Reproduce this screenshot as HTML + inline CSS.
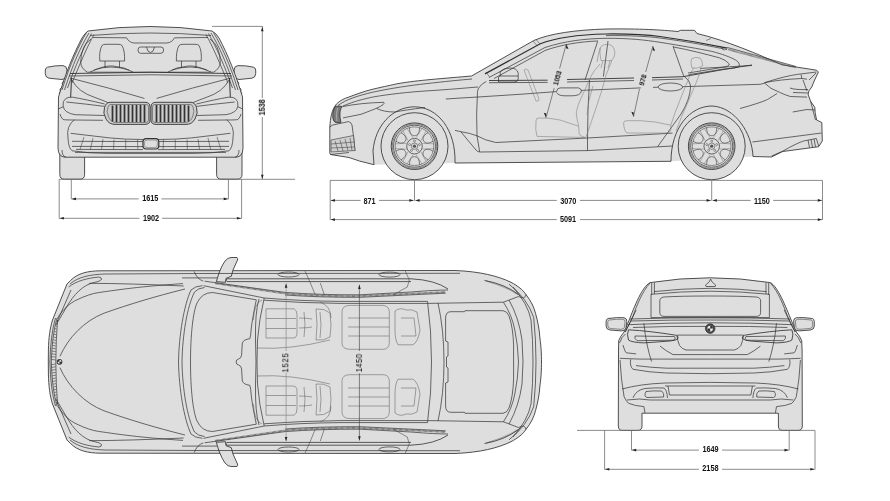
<!DOCTYPE html>
<html><head><meta charset="utf-8"><style>
html,body{margin:0;padding:0;background:#fff;width:890px;height:501px;overflow:hidden}
svg{display:block}
text{will-change:transform}
.f{fill:#dedede;stroke:#333;stroke-width:.85;stroke-linejoin:round}
.l{fill:none;stroke:#333;stroke-width:.72}
.t{fill:none;stroke:#3c3c3c;stroke-width:.55}
.g{fill:none;stroke:#8a8a8a;stroke-width:.5}
.s{fill:none;stroke:#555;stroke-width:.5}
.d{fill:none;stroke:#6e6e6e;stroke-width:.8}
.a{fill:#222}
text{font-family:"Liberation Sans",sans-serif;font-weight:bold;font-size:8.3px;fill:#111}
</style></head><body>
<svg width="890" height="501" viewBox="0 0 890 501">

<!-- ================= FRONT VIEW ================= -->
<g id="front">
  <!-- wheels -->
  <path class="f" d="M59.8,150 L59.8,174.5 Q59.8,179.2 64.5,179.2 L80,179.2 Q84.6,179.2 84.6,174.5 L84.6,150 Z"/>
  <path class="f" d="M216.6,150 L216.6,174.5 Q216.6,179.2 221.3,179.2 L237.3,179.2 Q242,179.2 242,174.5 L242,150 Z"/>
  <!-- mirrors -->
  <path class="f" d="M47.5,67.2 Q55,65.4 63,65.6 Q66.8,66 67,70 L66.6,75.5 Q66,79.4 62,79.5 L49,78.2 Q45.3,77.6 45.3,73.5 L45.3,70 Q45.5,67.8 47.5,67.2 Z"/>
  <path class="f" d="M253.5,67.2 Q246,65.4 238,65.6 Q234.2,66 234,70 L234.4,75.5 Q235,79.4 239,79.5 L252,78.2 Q255.7,77.6 255.7,73.5 L255.7,70 Q255.5,67.8 253.5,67.2 Z"/>
  <path class="l" d="M65,79.5 L62,83 Q64,85 62,87 L60,89 Q61,92 59,94 M236,79.5 L239,83 Q237,85 239,87 L241,89 Q240,92 242,94"/>
  <!-- body -->
  <path class="f" d="M88,31 Q150,22 212,31 Q216,33 219,38 C228,55 236,75 242.5,97 L243,148 Q242.8,156.8 236,157.2 L65,157.2 Q58.2,156.8 58,148 L58.5,97 C65,75 73,55 82,38 Q85,33 88,31 Z"/>
  <!-- A pillar stripes -->
  <path class="t" style="stroke-width:.7;stroke:#333" d="M86.5,32.5 C79,45 70,64 62,90 M89,33 C81,46 72.5,65 64.5,90 M91.5,33.5 C84,46.5 75.5,65.5 67.5,88 M94,34.5 C87,47 79,66 72,83"/>
  <path class="t" style="stroke-width:.7;stroke:#333" d="M213.5,32.5 C221,45 230,64 238,90 M211,33 C219,46 227.5,65 235.5,90 M208.5,33.5 C216,46.5 224.5,65.5 232.5,88 M206,34.5 C213,47 221,66 228,83"/>
  <path fill="none" stroke="#333" stroke-width="1" d="M71.5,78 L70.7,97 M229.5,78 L230.3,97"/>
  <!-- windshield -->
  <path class="l" d="M93,37.5 L126.5,37.8 Q129,42.5 134,43 L167,43 Q172,42.5 174.5,37.8 L208,37.5"/>
  <path class="l" d="M90,35.5 Q150,30.5 211,35.5"/>
  <path class="l" d="M91,39 Q85.5,43 83.7,47.5 Q80.5,55 80.7,62.4 Q81,68.5 87.4,72.2 L213.6,72.2 Q220,68.5 220.3,62.4 Q220.5,55 217.3,47.5 Q215.5,43 210,39"/>
  <path class="l" style="stroke-width:.9" d="M70,73.5 Q150,71 231,73.5"/>
  <path class="l" d="M69,76 Q150,73.5 232,76"/>
  <!-- rear view mirror -->
  <path class="l" d="M140.5,47 L161,47 Q163.6,47 163.6,50 Q163.6,53.3 161,53.3 L140.5,53.3 Q138,53.3 138,50 Q138,47 140.5,47 Z M146.5,47 Q147.5,52.5 150.5,52.5 Q153.5,52.5 154.5,47"/>
  <!-- headrests -->
  <path class="l" d="M99.8,61 Q99,51 102,45.5 Q103,44.3 106,44.3 L118,44.3 Q121,44.3 122,45.5 Q125,51 124.6,61 Z M105,61 L105,68 M119.5,61 L119.5,68"/>
  <path class="l" d="M176.4,61 Q176,51 179,45.5 Q180,44.3 183,44.3 L195,44.3 Q198,44.3 199,45.5 Q202,51 201.2,61 Z M181.5,61 L181.5,68 M196,61 L196,68"/>
  <path class="l" d="M90,72 Q105,65 113,66 Q125,67 133,72 M94,70 Q110,64 129,70 M168,72 Q176,67 188,66 Q196,65 211,72 M172,70 Q191,64 207,70"/>
  <!-- hood creases -->
  <path class="l" d="M70,78 Q110,88 144.4,98.4 M231,78 Q191,88 156.6,98.4"/>
  <path class="l" d="M72,80 Q78,92 95,97.5 Q102,100 108,102.6 M229,80 Q223,92 206,97.5 Q199,100 193,102.6"/>
  <!-- headlights -->
  <path class="l" d="M196.4,104 Q215,99.5 228.3,97.2 Q234,97 235.5,98.8 Q238.5,101 237.9,106 Q237,110 234.7,111.5 Q231,114 225.9,114.7 L196.4,115.5 M196.4,106.4 Q215,104 234.7,102 M198,120.3 L226.7,120 Q236,120 237.9,119.5 Q240.5,117 241,114 M238,106.8 L242.7,109"/>
  <path class="l" d="M104.6,104 Q86,99.5 72.7,97.2 Q67,97 65.5,98.8 Q62.5,101 63.1,106 Q64,110 66.3,111.5 Q70,114 75.1,114.7 L104.6,115.5 M104.6,106.4 Q86,104 66.3,102 M103,120.3 L74.3,120 Q65,120 63.1,119.5 Q60.5,117 60,114 M63,106.8 L58.3,109"/>
  <!-- kidneys -->
  <path fill="#cdcdcd" stroke="#333" stroke-width=".9" d="M110,102.3 L145,102.3 Q150,102.3 150,107 L150,120 Q150,124.4 145,124.4 L115,124.4 Q109,124.4 106,119 Q102.5,113 104.5,107.5 Q106,102.3 110,102.3 Z"/>
  <path fill="#cdcdcd" stroke="#333" stroke-width=".9" d="M191,102.3 L156,102.3 Q151,102.3 151,107 L151,120 Q151,124.4 156,124.4 L186,124.4 Q192,124.4 195,119 Q198.5,113 196.5,107.5 Q195,102.3 191,102.3 Z"/>
  <path class="t" d="M110.5,104.5 L146.5,104.5 Q148.5,104.5 148.5,107 L148.5,120 Q148.5,122.5 146,122.5 L116,122.5 Q111,122.5 108.5,117 Q106,111 108,107 Q109,104.5 110.5,104.5 Z"/>
  <path class="t" d="M190.5,104.5 L154.5,104.5 Q152.5,104.5 152.5,107 L152.5,120 Q152.5,122.5 155,122.5 L185,122.5 Q190,122.5 192.5,117 Q195,111 193,107 Q192,104.5 190.5,104.5 Z"/>
  <path stroke="#333" stroke-width="1.75" d="M112.5,105.5v16M116.5,105v17M120.5,105v17M124.5,105v17M128.5,105v17M132.5,105v17M136.5,105v17M140.5,105v17M144.5,105v17
  M156.5,105v17M160.5,105v17M164.5,105v17M168.5,105v17M172.5,105v17M176.5,105v17M180.5,105v17M184.5,105v17M188.5,105.5v16"/>
  <!-- bumper -->
  <path class="l" d="M74.5,119.7 Q66,126 68,138 Q68.5,148 72,150.8 Q90,153.5 107,153.4 L194,153.4 Q211,153.5 229,150.8 Q232.5,148 233,138 Q235,126 226.5,119.7"/>
  <path class="l" d="M70.6,133.3 L109.5,137.9 Q125,139.5 143,139.5 M230.4,133.3 L191.5,137.9 Q176,139.5 158,139.5"/>
  <path class="l" d="M72,141.3 Q105,141.5 143,141.5 M72,146.4 L143,146.6 M76,149.4 L143,149.6 M158,141.5 Q196,141.5 229,141.3 M158,146.6 L229,146.4 M158,149.6 L225,149.4"/>
  <path class="l" d="M75,152.4 L226,152.4"/>
  <path class="t" d="M84,137 L80,149.5 M93,138 L90.3,149.5 M103,139 L101.5,149.5 M114,139.5 L113.6,149.5 M125.7,139.5 L125.7,149.5 M137.5,139.5 L137.9,149.5 M163.5,139.5 L163.1,149.5 M175.3,139.5 L175.3,149.5 M187,139.5 L187.4,149.5 M198,139 L199.5,149.5 M208,138 L210.7,149.5 M217,137 L221,149.5"/>
  <rect x="143" y="138.6" width="15.8" height="10.4" rx="3.2" fill="#dedede" stroke="#333" stroke-width="1.2"/>
  <rect x="144.5" y="140" width="12.8" height="7.6" rx="2.4" fill="none" stroke="#555" stroke-width=".5"/>
  <path class="l" d="M62,150 Q62,156 66,157.2 M239,150 Q239,156 235,157.2"/>
</g>
<!-- ================= FRONT DIMENSIONS ================= -->
<g id="fdim">

  <text transform="translate(150.3,200.8) scale(0.88,1)" text-anchor="middle" style="font-size:8.3px;font-weight:bold">1615</text>
  <text transform="translate(151,220.7) scale(0.88,1)" text-anchor="middle" style="font-size:8.3px;font-weight:bold">1902</text>
  <text transform="translate(264.8,107.4) rotate(-90) scale(0.88,1)" text-anchor="middle" style="font-size:8.3px;font-weight:bold">1538</text>
</g>


<!-- ================= SIDE VIEW ================= -->
<g id="side">
  <!-- wells -->
  <path fill="#dedede" d="M373,151 C375,126 392,107 414.5,106.8 C438,107 456,130 455,163 L374,164.7 Z M671,161.3 C671,128 690,106 712,106 C735,107 752,133 753,156.5 Z"/>
  <!-- body -->
  <path class="f" d="M336.4,104.1 C340,100.5 344,98.5 349,97 C357,94 365,91 372.9,89.2 C385,86.3 392,85 396.9,83.8 C410,81.5 420,80.6 430,79.6 C445,78.2 460,77 471.5,76 L533.8,40.5 C550,33.5 575,30 606,29 C640,28.5 662,30 678,31.5 L680.5,30.3 L694.5,30.3 L697,33.5 C725,40 760,55 781.9,64.8 L816.6,70.2 L818.4,72 L814.2,81 L811.8,86.9 L808.8,91.1 L808.2,94.7 L810.6,101.3 L814.8,107.3 L815.2,112.7 L816.6,120 L821.8,122.5 L822.3,141 L818.7,146.7 L782.7,151.5 L771.5,157 L753,156.5 C752,133 735,107 712,106 C690,106 671,128 671,161.3 L455,163 C456,130 438,107 414.5,106.8 C392,107 375,126 373,151 L374,164.7 L359.7,161.1 L349,157.5 L330.4,154.5 L329.8,153 L329.8,127 C330.5,118 331.5,110 336.4,104.1 Z"/>
  <!-- wheels -->
  <g>
    <circle class="f" cx="414.5" cy="146.2" r="33.5"/>
    <circle fill="none" stroke="#333" stroke-width=".9" cx="414.5" cy="146.2" r="23.3"/>
    <circle class="t" cx="414.5" cy="146.2" r="22.2"/>
    <circle class="l" cx="414.5" cy="146.2" r="21"/>
    <circle class="t" cx="414.5" cy="146.2" r="19.3"/>
    <circle class="l" cx="414.5" cy="146.2" r="7.8"/>
    <circle class="t" cx="414.5" cy="146.2" r="3.2"/>
    <circle fill="#555" cx="414.5" cy="146.2" r="1.6"/>
    <path fill="none" stroke="#333" stroke-width=".6" d="M419.5,127.6 C419.6,133.7 417.1,135.7 414.5,135.7 C411.9,135.7 409.4,133.7 409.5,127.6 M400.9,132.6 C406.2,135.6 406.7,138.7 405.4,140.9 C404.1,143.2 401.1,144.3 395.9,141.2 M395.9,151.2 C401.1,148.1 404.1,149.2 405.4,151.4 C406.7,153.7 406.2,156.8 400.9,159.8 M409.5,164.8 C409.4,158.7 411.9,156.7 414.5,156.7 C417.1,156.7 419.6,158.7 419.5,164.8 M428.1,159.8 C422.8,156.8 422.3,153.7 423.6,151.4 C424.9,149.2 427.9,148.1 433.1,151.2 M433.1,141.2 C427.9,144.3 424.9,143.2 423.6,140.9 C422.3,138.7 422.8,135.6 428.1,132.6"/>
    <path fill="none" stroke="#555" stroke-width=".4" d="M433.7,148.6 L422.5,149.1 M433.7,143.8 L422.5,143.3 M426.1,130.8 L421.0,140.7 M422.0,128.4 L416.0,137.8 M407.0,128.4 L413.0,137.8 M402.9,130.8 L408.0,140.7 M395.3,143.8 L406.5,143.3 M395.3,148.6 L406.5,149.1 M402.9,161.6 L408.0,151.7 M407.0,164.0 L413.0,154.6 M422.0,164.0 L416.0,154.6 M426.1,161.6 L421.0,151.7"/>
    <circle fill="none" stroke="#333" stroke-width=".45" cx="414.5" cy="141.0" r="1"/>
    <circle fill="none" stroke="#333" stroke-width=".45" cx="409.6" cy="144.6" r="1"/>
    <circle fill="none" stroke="#333" stroke-width=".45" cx="411.4" cy="150.4" r="1"/>
    <circle fill="none" stroke="#333" stroke-width=".45" cx="417.6" cy="150.4" r="1"/>
    <circle fill="none" stroke="#333" stroke-width=".45" cx="419.4" cy="144.6" r="1"/>
  </g>
  <g>
    <circle class="f" cx="711.7" cy="146.2" r="33.5"/>
    <circle fill="none" stroke="#333" stroke-width=".9" cx="711.7" cy="146.2" r="23.3"/>
    <circle class="t" cx="711.7" cy="146.2" r="22.2"/>
    <circle class="l" cx="711.7" cy="146.2" r="21"/>
    <circle class="t" cx="711.7" cy="146.2" r="19.3"/>
    <circle class="l" cx="711.7" cy="146.2" r="7.8"/>
    <circle class="t" cx="711.7" cy="146.2" r="3.2"/>
    <circle fill="#555" cx="711.7" cy="146.2" r="1.6"/>
    <path fill="none" stroke="#333" stroke-width=".6" d="M716.7,127.6 C716.8,133.7 714.3,135.7 711.7,135.7 C709.1,135.7 706.6,133.7 706.7,127.6 M698.1,132.6 C703.4,135.6 703.9,138.7 702.6,140.9 C701.3,143.2 698.3,144.3 693.1,141.2 M693.1,151.2 C698.3,148.1 701.3,149.2 702.6,151.4 C703.9,153.7 703.4,156.8 698.1,159.8 M706.7,164.8 C706.6,158.7 709.1,156.7 711.7,156.7 C714.3,156.7 716.8,158.7 716.7,164.8 M725.3,159.8 C720.0,156.8 719.5,153.7 720.8,151.4 C722.1,149.2 725.1,148.1 730.3,151.2 M730.3,141.2 C725.1,144.3 722.1,143.2 720.8,140.9 C719.5,138.7 720.0,135.6 725.3,132.6"/>
    <path fill="none" stroke="#555" stroke-width=".4" d="M730.9,148.6 L719.7,149.1 M730.9,143.8 L719.7,143.3 M723.3,130.8 L718.2,140.7 M719.2,128.4 L713.2,137.8 M704.2,128.4 L710.2,137.8 M700.1,130.8 L705.2,140.7 M692.5,143.8 L703.7,143.3 M692.5,148.6 L703.7,149.1 M700.1,161.6 L705.2,151.7 M704.2,164.0 L710.2,154.6 M719.2,164.0 L713.2,154.6 M723.3,161.6 L718.2,151.7"/>
    <circle fill="none" stroke="#333" stroke-width=".45" cx="711.7" cy="141.0" r="1"/>
    <circle fill="none" stroke="#333" stroke-width=".45" cx="706.8" cy="144.6" r="1"/>
    <circle fill="none" stroke="#333" stroke-width=".45" cx="708.6" cy="150.4" r="1"/>
    <circle fill="none" stroke="#333" stroke-width=".45" cx="714.8" cy="150.4" r="1"/>
    <circle fill="none" stroke="#333" stroke-width=".45" cx="716.6" cy="144.6" r="1"/>
  </g>
  <!-- hood lines -->
  <path class="l" d="M338,105.5 C345,100 358,95.5 372.9,92.2 C392,88 410,85.5 425,83.8 C445,81.5 460,80 472,79"/>
  <path class="l" d="M343,106 C355,101 364,99 372.9,97 C390,94 410,92 425,91 C450,89.5 465,88 478,87"/>
  <path class="l" d="M445.8,99 Q460,98 478,97 L520,94.3 L556.6,91.6 M581.4,90.4 L640.7,87.9 M653,87.4 L658,87.2 M682.7,86.7 L760,84.3 L764.5,83.3"/>
  <!-- headlight -->
  <path class="l" d="M343,106.5 Q360,103 383.7,102.3 Q386,104 376.5,108.3 Q370,111 361,114.3 L343,117.9"/>
  <path class="l" d="M376.5,108.3 Q383,112 395,112 Q405,110 425,107.5"/>
  <!-- kidney -->
  <path fill="#7a7a7a" stroke="#333" stroke-width=".8" d="M335,106.5 Q332,112 332.8,118 Q333.5,122 336,122.7 L341,122.5 Q339.5,117 340,112 Q340.5,108 342.4,106.5 Q339,105.5 335,106.5 Z"/>
  <path fill="none" stroke="#ddd" stroke-width=".5" d="M337.5,108 Q335.5,114 337,121"/>
  <!-- front bumper -->
  <path class="l" d="M329.8,127 L332.2,125.2 L348.4,121.6 Q351,122 352,125 L353.7,137.8 L355,151"/>
  <path fill="#cfcfcf" stroke="#333" stroke-width=".6" d="M331,140 L353.5,135.5 L355,150.5 L331,152 Z"/>
  <path class="t" d="M331,144 L354,142 M331,148 L354.5,147 M335,141 L338,151 M340,140 L343,151 M345,139 L348,150.5 M350,138 L352,150.5"/>
  <path class="l" d="M330.4,154.5 L349,152.5"/>
  <!-- roof rail -->
  <path class="l" d="M489,77.5 L545,47.5 C565,41 585,38.6 606,38.3"/>
  
  <path fill="none" stroke="#2e2e2e" stroke-width="1.2" d="M485,73.9 L539.8,44 C555,38 580,34.5 606,34 C630,33.8 648,34.8 660,36.5 C690,40.5 710,44.5 727.4,48.2"/>
  <path class="l" d="M606,35.6 C630,35.4 648,36.4 660,38 C690,42 710,46 727,49.6"/>
  <path fill="none" stroke="#444" stroke-width="1.8" stroke-dasharray=".5,.6" d="M728,49.5 L796,67.6"/>
  <path class="l" d="M727.4,47.5 L796,66.5 M720,46 L724,50.5"/>
  <path class="t" d="M533,41 L537,45.5 M536,39.5 L540,44 M486,72 L489.5,77 M706,40.5 L711,38.5"/>
  <!-- window frames -->
  <path class="l" d="M606,38.3 C630,38.2 645,40 660,42.3 C680,45.5 700,49 711.9,51.4 C722,54 730,57 735.2,59.8 Q740.5,63 739.1,66.3 Q737,68.5 724.9,68.9 L688.5,74.7"/>
  <path class="l" d="M494,78.5 L545,50.5 C560,45 580,41.5 598,41"/>
  <path class="l" d="M673,46.9 C690,50 705,54 719.7,57.9 Q726,60 729.4,64 Q729.5,66.5 721,67.6 L688,73"/>
  <!-- pillars -->
  <path class="l" d="M597.6,41.5 L585,80 M608,41 L603.4,76.5 M673,46.2 L683.6,75.8"/>
  <!-- belt lines -->
  <path fill="none" stroke="#333" stroke-width=".9" d="M489,80.5 L547.6,80.2 M567.1,79.5 L634,78 M652,77.7 L683,76.7 C705,73 730,68 752,65"/>
  <path class="l" d="M489,82.7 L547.6,82.4 M567.1,82 L634,80.5 M652,80 L683,79"/>
  <!-- door handles -->
  <ellipse class="l" cx="670.4" cy="87" rx="12.3" ry="4"/>
  <path class="l" d="M556.6,91.6 Q557,88 560,87.9 L578.5,87.9 Q581.4,88.5 581.4,91.2 Q580.5,95.8 572,95.8 L564,95.8 Q558,95.5 556.6,92.5"/>
  <!-- doors -->
  <path class="l" d="M486.3,81.5 Q478,86 477.5,91.6 Q476,115 477,135.8 L479.7,152"/>
  <path class="l" d="M589.5,80 Q587.5,110 587.5,138 L587.5,150.6"/>
  <path class="l" d="M683.6,75.8 Q690,80 690.7,86 Q690,100 681,114 L657.7,146.6"/>
  <!-- sills / skirts -->
  <path class="l" d="M455,130.4 L460.8,131.7 Q470,133 477,135.8 Q485,140.5 495.8,142.5 L587.5,138 L672.5,133.1"/>
  <path class="l" d="M460.8,131.7 L476,150 Q477.5,152 480,152 L587.5,150.6 L672.5,146"/>
  <!-- mirror -->
  <path class="l" d="M500,72 Q503,68 510,68 Q517,68 518.2,73 L518.2,79 Q518,82 514,82 L498.5,82 L498.5,77 L500.5,76 Z M500.5,76 L518,76"/>
  <!-- steering wheel -->
  <path class="g" style="stroke:#777" d="M524,70 Q526,68 528,70 L539,99 Q539,102 536,101 Z"/>
  <!-- rear end details -->
  <path class="l" d="M764.5,82.7 Q780,79.5 801.6,78.5 L807,79.2 M764.5,83 Q770,89 779.5,92.3 Q785,95 790.3,96.5 L807,97.1"/>
  <path class="l" d="M790,88 Q795,90 808,89.5 M793,92.5 L808,93"/>
  <path class="l" d="M740,108.5 Q760,103 767.5,99.5 L777.1,93.5"/>
  <path class="l" d="M792.7,112 L807,109.5 L815,110"/>
  <path class="l" d="M752.4,142 L821.5,133 M771.5,156 L782.7,151.2 Q795,144 803.5,141 L816.3,138.5 L818.7,146 M808,140 L809.5,147.5 M811,139.5 L812.5,147 M814,139 L815.5,146.8"/>
  <path class="l" d="M764.5,82.7 Q785,76 797.4,74.4 L816.5,72 M801,74.5 L802,79 M803,80 L807,91 M809,80 L816,73"/>
  <path class="l" d="M810.6,101.3 L815.5,120"/>
  <path class="l" d="M700,68.4 L752,65.5"/>
  <!-- seats interior -->
  <path class="g" style="stroke:#7a7a7a;stroke-width:.55" d="M536,121 Q535.5,118 539,118 Q548,117.5 560,120 L578.7,126.3 L579,131 Q578,136 585.4,137.5 M536,121 Q535,130 537,136.4 L585.4,137.5"/>
  <path class="g" style="stroke:#7a7a7a;stroke-width:.55" d="M578.7,126.3 Q576,115 576.4,111.7 Q578,104 581,98.2 Q586,88 590,78 Q594,70 600,64 M586,137 Q592,120 597,105 Q603,88 606,75 Q610,66 612,60"/>
  <path class="g" style="stroke:#7a7a7a;stroke-width:.55" d="M601,60.6 Q599,52 600.5,47 Q603,44 608,44.3 Q614,45 614.8,52 Q615,58 611,60.6 Z M603,60.6 L601,68 M610,60.6 L608,68"/>
  <path class="g" style="stroke:#7a7a7a;stroke-width:.55" d="M623.6,123 Q623.5,120.7 627,120.7 Q640,120 655,122 L670.8,125.2 L671,129 Q670,133 668,133 L627,133 Q624,131 623.6,123 Z"/>
  <path class="g" style="stroke:#7a7a7a;stroke-width:.55" d="M670.8,125.2 Q675,112 680,100 Q686,85 690,75 Q692,70 694,68 M676,131 Q682,115 688,102 Q694,88 698,78 Q700,72 701,68"/>
  <path class="g" style="stroke:#7a7a7a;stroke-width:.55" d="M692,68 Q690,61 692,58.5 Q696,56.5 700,58 Q703,61 702.5,66 Q698,69 692,68 Z"/>
  <path class="g" style="stroke:#7a7a7a;stroke-width:.55" d="M600,48 Q598,55 597,62 M593,86 Q588,100 587,115"/>
  <!-- interior dims -->
  <path fill="none" stroke="#333" stroke-width=".55" d="M566.3,44 L559.6,68.5 M554.2,88 L546,117.8 M652.9,46 L645.7,72 M639.5,89 L633.5,116.8"/>
  <path class="a" d="M566.3,44 l-0.3,4.3 l2.5,0.7z M546,117.8 l0.3,-4.3 l-2.5,-0.7z M652.9,46 l-0.3,4.3 l2.5,0.7z M633.5,116.8 l0.3,-4.3 l-2.5,-0.7z"/>
</g>
<text transform="translate(556.9,77.9) rotate(-74.6) scale(0.9,1)" text-anchor="middle" y="2.51" style="font-size:7.3px;font-weight:bold">1053</text>
<text transform="translate(642.3,79.9) rotate(-74.7) scale(0.9,1)" text-anchor="middle" y="2.51" style="font-size:7.3px;font-weight:bold">978</text>

<!-- ================= SIDE DIMENSIONS ================= -->
<g id="sdim">

  <text transform="translate(369.5,203.7) scale(0.88,1)" text-anchor="middle" style="font-size:8.3px;font-weight:bold">871</text>
  <text transform="translate(568.3,204) scale(0.88,1)" text-anchor="middle" style="font-size:8.3px;font-weight:bold">3070</text>
  <text transform="translate(761.9,203.7) scale(0.88,1)" text-anchor="middle" style="font-size:8.3px;font-weight:bold">1150</text>
  <text transform="translate(568,221.9) scale(0.88,1)" text-anchor="middle" style="font-size:8.3px;font-weight:bold">5091</text>
</g>


<!-- ================= TOP VIEW ================= -->
<g id="top">
  <!-- body -->
  <path class="f" d="M100,270.8 L455,270.5 C480,271.5 498,276 511,282.3 C518,286 523,290 526,294.6 C531,301 534,307 535.6,313.6 C538,322 539.4,330 539.9,338 C541.3,348 541.5,355 541.5,362 C541.5,369 541.3,376 539.9,386 C539.4,394 538,402 535.6,410.4 C534,417 531,423 526,429.4 C523,434 518,438 511,441.7 C498,448 480,452.5 455,453.5 L100,453.2 C88,453 78,451 70.5,443.5 L67,440 L52.5,404 C50,396 48.6,386 48.4,374 L48.3,362 L48.4,350 C48.6,338 50,328 52.5,320 L67,284 L70.5,280.5 C78,273 88,271 100,270.8 Z"/>
    <!-- mirrors -->
  <path class="f" d="M216.3,281.7 L219,273 Q222,265 225,261 Q228,257.5 231,257.5 L237,257.5 Q238,258.5 237.5,260 L233,270 L231.3,276.3 L226,278.3 L225.5,282.3 Z"/>
  <path class="f" d="M216.3,442.3 L219,451 Q222,459 225,463 Q228,466.5 231,466.5 L237,466.5 Q238,465.5 237.5,464 L233,454 L231.3,447.7 L226,445.7 L225.5,441.7 Z"/>
  <g id="tophalf">
    <!-- front fender / headlight lines -->
    <path class="l" d="M70,284 C78,277 90,274.5 105,274 L200,273.5 L460,273.3"/>
    <path class="l" d="M68.7,287 C76,281 88,278 99,277 Q102,277.5 101.5,279.5 Q100,281.5 94,282.5 C83,285 74,294 66,308 L56,325"/>
    <path class="l" d="M71,290 L57,322"/>
    <path class="l" d="M89,283.3 Q130,283.5 183.7,286"/>
    <path class="l" d="M57.2,318.6 C63,309 70,303 77,299.8 C85,296 92,293.5 98.5,292.6 C120,289.5 140,286.5 183,283.6"/>
    <path class="l" d="M59.9,356.4 C68,338 84,321 104,313.2 C130,304 155,296.5 185,289"/>
    <path class="l" d="M57,318 Q52,335 51.3,362 M57.5,320 Q56,340 55.8,362 M55.5,318 Q50.5,335 49.9,362"/>
    <path fill="none" stroke="#333" stroke-width=".6" d="M56.1,323.0 L56.8,323.6 M55.5,325.8 L56.7,326.4 M54.9,328.6 L56.5,329.2 M54.4,331.4 L56.3,332.0 M53.9,334.2 L56.2,334.8 M53.4,337.0 L56.0,337.6 M53.1,339.8 L55.9,340.4 M52.7,342.6 L55.8,343.2 M52.4,345.4 L55.7,346.0 M52.2,348.2 L55.7,348.8 M52.0,351.0 L55.6,351.6 M51.8,353.8 L55.6,354.4 M51.7,356.6 L55.5,357.2 M51.6,359.4 L55.5,360.0"/>
    <!-- windshield frame -->
    <path class="l" d="M202.4,285.7 Q195,286 191,290 C184,305 179,335 178.5,362"/>
    <path class="l" d="M204.5,287.5 Q198,288 194.5,292 C187,307 182.5,335 182,362"/>
    <!-- glass -->
    <path class="l" d="M190.5,362 C190.5,335 193,312 197,303 Q202,292.5 212.5,292.5 L256.3,299.8 Q252.5,318 251.3,328 Q250.8,336 249.8,338.7 Q243.5,339.5 242.3,343 L241.6,355 Q241.2,358.5 238.5,359 Q236.1,359.5 236.1,362"/>
    <!-- A pillar band -->
    <path fill="none" stroke="#444" stroke-width="1.7" stroke-dasharray=".6,.6" d="M215,283.3 L285,293.6 Q320,296.3 360,296 L445.7,292"/>
    <path class="l" d="M204.6,281.2 L285,292.4 Q320,295 360,294.8 L411,292 Q435,290 448,290"/>
    <path class="l" d="M203.5,285.7 L264.2,298 M285,295 Q320,297.5 360,297.3 L445.7,293.2"/>
    <path class="l" d="M264.2,298 Q259,320 257.5,340 L257,362 M259,299 Q255,312 255.5,340 L256,362"/>
    <!-- roof rail -->
    <path fill="none" stroke="#333" stroke-width=".8" d="M227,278.8 L411,278.8 Q435,280 448,289 M227,281.6 L411,281.6"/>
    <path class="l" d="M227,278.8 Q225,280.2 227,281.6"/>
    <path class="l" d="M182,277.9 L217,277.9 M194.2,271.5 Q197,279 203.2,281.1"/>
    <!-- roof edge -->
    <path class="l" d="M264.2,298 Q300,301 340,301.4 L427.5,301.4 M264,300.2 Q300,303 340,303.4 L427.5,303.4 L503.4,302.2 L518.5,296.5 Q525,300 526,294.6"/>
    <!-- door handles -->
    <ellipse class="l" cx="288.5" cy="274.5" rx="10.5" ry="2.5"/>
    <ellipse class="l" cx="389.5" cy="274.6" rx="10.5" ry="2.5"/>
    <!-- B/C pillar hints -->
    <path class="t" d="M305,271 L310,282 L315.3,295 M320.3,283 L324.4,295 M405.3,271 L409.3,280 L407.3,287 L393,295"/>
    <!-- front seat -->
    <path class="s" d="M253.4,320 Q254,303 262,300 M331,318 Q331,306 320,302"/>
    <path class="s" d="M266,308.8 L294,308.8 Q297,310 297,315 L297,333 Q297,338 293,338 L266,338 Z M266,318.5 L296,318.5 M266,328.5 L296,328.5"/>
    <path class="s" d="M299,318 Q307,318 312,319 M299,328 Q307,328 312,327 M304,312 Q306,325 304,337"/>
    <path class="s" d="M316,309 Q324,308 330,313 Q332,325 330,337 Q324,341 316,340 Q318,325 316,309 Z M320,312 Q322,325 320,338"/>
    <path class="s" d="M257,348 Q290,350 330,340"/>
    <!-- rear seat -->
    <path class="s" d="M342,312 Q342,305.4 350,305.4 L383,305.4 Q389.3,306 389.3,312 L389.3,343 Q389,349.3 383,349.3 L350,349.3 Q342,349.3 342,343 Z"/>
    <path class="s" d="M348,318 L389,318 M348,327 L389,327 M348,336 L389,336"/>
    <path class="s" d="M395,311 Q400,307 406,310 Q412,308.8 417,312 L420,330 Q418,342 413,344.8 L398,344.8 Q395,340 395,330 Z M401,318 L414,318 L416,336 L401,336"/>
    <!-- C pillar / rear window -->
    <path class="l" d="M427.5,301.4 Q431.5,330 431.5,362 M438,303 Q444,330 444,362"/>
    <path class="l" d="M445.6,318 Q445.6,311.7 451,311.7 L464.5,311.7 L465,310.7 L503,310.7 Q507,311 509,316 Q513,327 513.6,345 L513.6,362"/>
    <path class="l" d="M445.6,318 L445.6,341 L448,342 L448,356 L446.5,357 L446.5,362"/>
    <path class="l" d="M503.4,302.2 Q512,315 514.8,330 Q518,345 518.5,362 M509,300 Q519,318 522,340 L523,362"/>
    <path class="l" d="M509,284.2 Q527,298 533.7,317.4 Q536,340 536,362 M513,287 Q528,304 531,320 Q533,340 533,362"/>
    <path fill="none" stroke="#444" stroke-width="1.3" stroke-dasharray=".5,.6" d="M486,281 Q505,286 518.5,294.6"/>
    <path class="l" d="M484.4,280.4 Q505,284 518.5,294.6 L520,296"/>
  </g>
  <use href="#tophalf" transform="translate(0,724) scale(1,-1)"/>
  <!-- logo -->
  <circle cx="59.5" cy="361.8" r="2.9" fill="#3a3a3a"/>
  <path d="M59.5,359.8 A2,2 0 0 1 61.5,361.8 L59.5,361.8Z M59.5,363.8 A2,2 0 0 1 57.5,361.8 L59.5,361.8Z" fill="#e8e8e8"/>
</g>
<!-- top dims -->
<g>
  <text transform="translate(288.3,362.7) rotate(-90) scale(0.95,1)" text-anchor="middle" style="font-size:8.3px;font-weight:normal;letter-spacing:0.6px">1525</text>
  <text transform="translate(362,363) rotate(-90) scale(0.95,1)" text-anchor="middle" style="font-size:8.3px;font-weight:normal;letter-spacing:0.3px">1450</text>
</g>


<!-- ================= REAR VIEW ================= -->
<g id="rear">
  <!-- body incl wheels -->
  <path class="f" d="M650,282.6 Q710,273 770.4,282.6 C778,287 785,305 792,322 L796.3,332 Q800,336 801.7,340.7 L802.1,350 L802.3,426 Q802.3,430.4 798,430.4 L782.5,430.4 Q778.4,430.4 778.4,426 L778.4,413.2 L642,413.2 L642,426 Q642,430.4 637.8,430.4 L622.5,430.4 Q618.3,430.4 618.3,426 L618.5,350 L618.7,340.7 Q620.4,336 624.1,332 L628.4,322 C635,305 642,287 650,282.6 Z"/>
  <g id="rearhalf">
    <!-- mirror -->
    <path class="f" d="M608,318.5 Q617,317.2 624,317.7 Q627,318.2 626.8,321.5 L626,328 Q625.3,330.9 621.5,330.9 L610,330 Q606.1,329.5 606.1,326 L606.1,321.5 Q606.3,319 608,318.5 Z"/>
    <path class="t" d="M609.3,320 Q617,319 623,319.3 Q625.2,319.6 625,322 L624.4,327.3 Q623.8,329.3 621,329.3 L610.5,328.5 Q607.8,328.2 607.8,325.5 L607.8,321.8 Q608,320.3 609.3,320 Z"/>
    <!-- roof pillars -->
    <path class="l" d="M651.7,283 L651.7,295 M654.4,282.5 L654.4,294"/>
    <path class="l" d="M654,291.6 Q682,288.5 710.2,288.3 M651,294.3 Q680,291.3 710.2,291.2"/>
    <!-- rear window -->
    <path class="l" d="M651,294.3 L651,317.6 L710.2,317.6"/>
    <path class="l" d="M710.2,296 Q680,296 664,297 Q659.8,297.5 659.8,301 L659.8,312.5 Q659.8,316.4 664,316.4 L710.2,316.4"/>
    <!-- c pillar -->
    <path class="l" d="M650,283 C642,292 637,305 633,316 Q629,325 625.2,332"/>
    <path class="l" d="M636.2,310 Q631,321 625.2,332"/>
    <!-- lid lines -->
    <path class="l" d="M630,319 Q670,317.5 710.2,317.8 M631,321 Q670,319.8 710.2,320"/>
    <path class="l" d="M628,324.7 Q670,322.6 710.2,322.8 M633,327.5 Q670,326 710.2,326.4"/>
    <path class="l" d="M643.9,323.2 Q645,335 647.2,345 Q649,354 651.6,361.6"/>
    <!-- taillight -->
    <path class="l" style="stroke-width:.85" d="M628.5,329.8 Q650,331 675.7,335.2 Q679,336.5 678,338.5 Q676,340.5 670,341 L643.9,342.9 Q632,342.5 628.5,340 Q626.5,334 628.5,329.8 Z"/>
    <path class="l" d="M635,336 L674.6,336.6 Q676,338.5 674,340.2 L637,340.7 Q634,338.5 635,336 Z"/>
    <path class="l" d="M676.9,335.1 L710.2,335.1 M676.9,335.1 Q677.5,341 679.5,345.5 Q682,349 686,350 L710.2,350"/>
    <path class="l" d="M660,346.1 Q666,351 673,354.6 L710.2,354.6"/>
    <path class="l" d="M626.3,352.8 L636.2,353.9"/>
    <path class="l" d="M619.8,358.3 Q630,358.8 640,359.1 L710.2,359.1"/>
    <!-- bumper band -->
    <path class="l" d="M630.7,359.4 Q629.5,366 633,369.3 Q650,372.5 666.5,373 L710.2,373.7"/>
    <path class="l" d="M636,365.6 Q650,367.5 666.5,368.2 L710.2,368.2"/>
    <path class="l" d="M622,389 Q640,384 665,383 L710.2,382.4"/>
    <path class="l" d="M665,386 L710.2,386 M668,386 L669.5,395 L710.2,395"/>
    <!-- exhaust -->
    <path class="l" d="M646,391.5 Q654,390.5 661.5,391 Q664.5,393 663.7,397 L647,397.5 Q643.5,396.5 646,391.5 Z"/>
    <path class="l" d="M633,397.8 Q636,390 645,388.5 Q656,387.5 664,388 Q667,390 667.5,398"/>
    <path class="l" d="M624.1,396.7 Q626,401 628.5,403.3 Q635,406 643.9,406.6 L645,413"/>
    <path class="l" d="M627,400 Q640,398 650,400 L710.2,400"/>
    <path class="l" d="M620,360 Q621,380 624.1,396.7"/>
    <path class="l" d="M623,345 Q625,352 626.3,352.8 M619.5,343 Q622,336 625.5,334"/>
  </g>
  <use href="#rearhalf" transform="translate(1420.4,0) scale(-1,1)"/>
  <path class="l" d="M706,286.5 Q704.5,285 707,283.8 Q709.5,282.5 710.6,279 Q711.7,282.5 714.2,283.8 Q716.7,285 715.2,286.5 Z"/>
  <!-- logo -->
  <circle cx="710.2" cy="328.6" r="4.8" fill="#4a4a4a" stroke="#222" stroke-width=".6"/>
  <circle cx="710.2" cy="328.6" r="2.8" fill="#f0f0f0"/>
  <path d="M710.2,325.8 A2.8,2.8 0 0 1 713,328.6 L710.2,328.6Z M710.2,331.4 A2.8,2.8 0 0 1 707.4,328.6 L710.2,328.6Z" fill="#333"/>
</g>
<!-- rear dims -->
<g>
  <text transform="translate(710.5,451.7) scale(0.88,1)" text-anchor="middle" style="font-size:8.3px;font-weight:bold">1649</text>
  <text transform="translate(710.4,471.4) scale(0.88,1)" text-anchor="middle" style="font-size:8.3px;font-weight:bold">2158</text>
</g>


<!-- ================= DIMENSIONS ================= -->
<path class="d" d="M59,179.3 L295,179.3 M212,26.4 L263,26.4 M262.3,27.0 L262.3,98.2 M262.3,117.0 L262.3,179.0 M59.2,179.3 L59.2,218.8 M241.6,179.3 L241.6,218.8 M71.3,179.3 L71.3,199.3 M228.4,179.3 L228.4,199.3 M71.8,198.9 L138.7,198.9 M161.4,198.9 L227.9,198.9 M59.7,218.3 L139.4,218.3 M162.1,218.3 L241.1,218.3 M330,180.4 L822.5,180.4 M330.2,180.4 L330.2,220.0 M822.5,180.4 L822.5,220.0 M414.5,180.4 L414.5,200.8 M711.7,180.4 L711.7,200.8 M330.7,200.4 L360.6,200.4 M379.0,200.4 L413.6,200.4 M415.4,200.4 L556.8,200.4 M579.9,200.4 L710.8,200.4 M712.6,200.4 L750.6,200.4 M773.1,200.4 L822.0,200.4 M330.7,219.6 L556.8,219.6 M579.9,219.6 L822.0,219.6 M577,430.4 L815,430.4 M604.6,430.4 L604.6,469.7 M815,430.4 L815,469.7 M631.5,430.4 L631.5,450.5 M789.2,430.4 L789.2,450.5 M632.0,450.1 L698.9,450.1 M722.0,450.1 L788.7,450.1 M605.1,469.3 L698.9,469.3 M722.0,469.3 L814.5,469.3"/>
<path fill="none" stroke="#8a8a8a" stroke-width=".7" d="M286.1,283.5 L286.1,351.0 M286.1,372.6 L286.1,441.3"/>
<path fill="none" stroke="#3a3a3a" stroke-width=".6" d="M359.4,284.7 L359.4,351.0 M359.4,373.3 L359.4,440.5"/>
<path class="a" d="M262.3,27 l-1.3,4.2 h2.6z M262.3,179 l-1.3,-4.2 h2.6z M71.8,198.9 l4.2,-1.3 v2.6z M227.9,198.9 l-4.2,-1.3 v2.6z M59.7,218.3 l4.2,-1.3 v2.6z M241.1,218.3 l-4.2,-1.3 v2.6z M330.7,200.4 l4.2,-1.3 v2.6z M413.6,200.4 l-4.2,-1.3 v2.6z M415.4,200.4 l4.2,-1.3 v2.6z M710.8,200.4 l-4.2,-1.3 v2.6z M712.6,200.4 l4.2,-1.3 v2.6z M822,200.4 l-4.2,-1.3 v2.6z M330.7,219.6 l4.2,-1.3 v2.6z M822,219.6 l-4.2,-1.3 v2.6z M632,450.1 l4.2,-1.3 v2.6z M788.7,450.1 l-4.2,-1.3 v2.6z M605.1,469.3 l4.2,-1.3 v2.6z M814.5,469.3 l-4.2,-1.3 v2.6z M286.1,283.5 l-1.3,4.2 h2.6z M286.1,441.3 l-1.3,-4.2 h2.6z M359.4,284.7 l-1.3,4.2 h2.6z M359.4,440.5 l-1.3,-4.2 h2.6z"/>

</svg>
</body></html>
